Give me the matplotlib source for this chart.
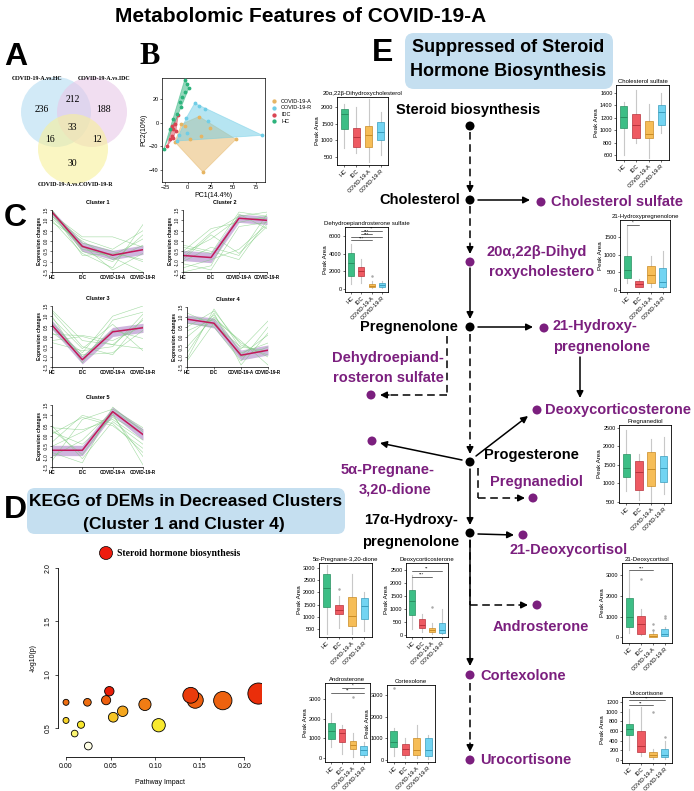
import matplotlib
matplotlib.use("Agg")
import matplotlib.pyplot as plt
from matplotlib.patches import Circle, FancyBboxPatch, Polygon
from matplotlib.colors import LinearSegmentedColormap
import numpy as np

W, H = 694, 791
fig = plt.figure(figsize=(W/100, H/100), dpi=100)
plt.rcParams['font.family'] = ['Liberation Sans', 'DejaVu Sans']

def add_ax(x, y, w, h):
    return fig.add_axes([x/W, 1-(y+h)/H, w/W, h/H])

ov = fig.add_axes([0, 0, 1, 1])
ov.set_xlim(0, W); ov.set_ylim(H, 0); ov.axis('off')

# ---------------- DATA ----------------
venn_sets = ["COVID-19-A.vs.HC", "COVID-19-A.vs.IDC", "COVID-19-A.vs.COVID-19-R"]
venn_counts = {"A": 236, "AB": 212, "B": 188, "ABC": 33, "AC": 16, "BC": 12, "C": 30}

pca_groups = ["COVID-19-A", "COVID-19-R", "IDC", "HC"]
pca_hc_x = [-26.1, -3.3, -0.4, 1.1, -3.3, -6.2, -8.7, -7.6, -11.6, -15.9, -19.6]
pca_hc_y = [-22.0, 36.1, 32.4, 28.7, 25.4, 21.1, 17.5, 13.5, 7.0, 2.8, -5.6]
pca_idc_x = [-22.5, -19.6, -17.8, -15.9, -17.0, -14.1, -10.5, -13.0, -15.9]
pca_idc_y = [-19.7, -14.1, -11.3, -5.6, -2.8, -1.4, 6.2, -7.0, -12.7]
pca_r_x = [-12.3, -1.4, 7.6, 12.3, 18.5, 22.1, 81.9, -9.8, -0.4]
pca_r_y = [-15.5, 4.2, 16.3, 14.1, 11.3, 1.1, -10.7, -10.7, -9.0]
pca_a_x = [-14.1, 12.3, 52.9, 16.7, -3.3, 2.2, 14.9, 23.9, -6.9]
pca_a_y = [-16.3, 5.1, -14.1, -41.7, -2.8, -13.5, -11.3, -4.2, -1.4]

stages = ["HC", "IDC", "COVID-19-A", "COVID-19-R"]
cl_mean = [[1.40, -0.26, -0.69, -0.42],
           [-0.70, -0.80, 1.10, 1.00],
           [0.56, -1.14, 0.23, 0.43],
           [0.89, 0.69, -0.91, -0.66],
           [-0.69, -0.69, 1.18, 0.07]]
cl_band_lo = [[1.25, -0.50, -0.90, -0.65],
              [-0.95, -1.05, 0.90, 0.80],
              [0.35, -1.35, 0.00, 0.20],
              [0.70, 0.45, -1.15, -0.90],
              [-0.95, -0.95, 1.00, -0.20]]
cl_band_hi = [[1.50, -0.05, -0.45, -0.20],
              [-0.45, -0.55, 1.30, 1.20],
              [0.80, -0.95, 0.45, 0.65],
              [1.10, 0.95, -0.65, -0.40],
              [-0.45, -0.45, 1.40, 0.35]]
cl_green = [
    [[1.2, -0.3, -0.8, -1.5], [1.5, -0.5, -1.0, 0.3], [1.3, 0.2, 0.2, -0.3], [1.0, -0.6, -1.3, 0.8],
     [1.4, -0.1, -0.5, -1.0], [0.9, 0.0, -0.9, -0.2], [1.5, -0.4, -0.7, 0.1], [1.1, -0.2, -1.4, -0.6],
     [1.4, -0.7, -0.6, -0.9], [1.2, 0.1, -0.4, 0.5]],
    [[-0.5, 0.6, 0.9, 1.2], [-1.0, -0.3, -0.7, 1.3], [-1.5, -1.2, 1.3, 0.6], [-0.2, -0.5, -0.9, 1.0],
     [-0.8, 0.4, 1.2, 1.4], [-1.3, -0.9, -0.4, 0.8], [-0.6, 0.1, 1.1, 1.1], [-1.1, -1.4, 0.7, 0.9],
     [-0.3, -0.6, 1.4, 1.2], [-0.9, 0.3, -0.6, 0.7]],
    [[1.3, -0.2, -0.4, -0.6], [0.4, -0.8, 1.0, 1.5], [-0.2, 0.0, -0.4, 0.8], [0.9, -0.6, 0.6, -0.7],
     [0.2, -0.9, -0.8, 0.3], [1.0, -1.3, 0.8, 1.2], [-0.3, -0.7, -0.5, 1.1], [0.7, -1.0, 0.3, -0.1],
     [0.1, 0.05, -0.2, 0.5], [1.2, -0.5, -0.9, 0.9]],
    [[-1.1, 1.4, -0.6, 0.8], [0.3, 0.9, -0.2, -1.4], [-0.8, 1.2, -1.4, 0.2], [1.2, 0.6, -0.5, -0.7],
     [0.0, 1.1, -0.8, -0.3], [0.7, 0.5, -1.2, 0.5], [-0.5, 1.0, -0.3, -1.0], [1.0, 0.8, -1.0, -0.5],
     [-1.2, 0.7, -0.9, 0.1], [0.5, 1.3, -0.4, -0.9]],
    [[0.3, -0.9, 1.1, -1.4], [-0.3, 1.0, 0.6, -0.8], [0.2, -0.4, 0.9, 0.1], [-1.2, 0.8, 1.3, 0.4],
     [0.5, -1.1, 0.7, -0.4], [-0.5, 0.2, 1.0, -1.0], [-1.0, -0.2, 1.2, 0.3], [0.1, 0.9, 0.5, -0.6],
     [-0.8, -1.3, 1.4, 0.2], [0.4, 0.3, 0.8, -0.2]],
]

kegg_impact = [0.0, 0.0, 0.0097, 0.0168, 0.025, 0.024, 0.045, 0.0486, 0.053, 0.0636, 0.0886, 0.104, 0.14, 0.145, 0.176, 0.216]
kegg_logp = [0.74, 0.57, 0.447, 0.53, 0.33, 0.74, 0.76, 0.844, 0.60, 0.656, 0.72, 0.525, 0.806, 0.76, 0.756, 0.822]

box_groups = ["HC", "IDC", "COVID-19-A", "COVID-19-R"]
# five-number summaries: [whislo, q1, med, q3, whishi]
bx_dihydroxychol = [[750, 1350, 1800, 1950, 2100], [600, 800, 1100, 1380, 2000],
                    [330, 800, 1150, 1420, 2250], [550, 1000, 1250, 1550, 1850]]
bx_dheas = [[600, 1500, 2900, 4100, 5100], [700, 1500, 2000, 2500, 3400],
            [100, 200, 400, 600, 900], [100, 200, 450, 650, 900]]
bx_cholsulf = [[600, 1030, 1210, 1390, 1450], [800, 870, 1080, 1270, 1650],
               [550, 870, 940, 1150, 1420], [950, 1080, 1300, 1410, 1600]]
bx_21ohpreg = [[200, 350, 580, 960, 1850], [80, 100, 170, 260, 300],
               [100, 200, 420, 690, 950], [50, 80, 230, 620, 1100]]
bx_pregnanediol = [[800, 1170, 1420, 1790, 2450], [550, 830, 1300, 1600, 1800],
                   [500, 940, 1380, 1850, 2200], [700, 1050, 1420, 1730, 2250]]
bx_5apreg = [[300, 1400, 2180, 2750, 3100], [550, 1100, 1280, 1500, 1850],
             [300, 600, 1050, 1820, 2750], [400, 900, 1450, 1780, 2000]]
bx_doc = [[250, 780, 1300, 1750, 2300], [100, 280, 380, 620, 800],
          [30, 100, 180, 260, 450], [30, 80, 200, 450, 1000]]
bx_andro = [[550, 980, 1350, 1800, 2300], [200, 800, 1250, 1450, 1700],
            [50, 450, 650, 850, 1250], [30, 150, 400, 600, 800]]
bx_cortex = [[200, 600, 850, 1320, 1500], [100, 250, 500, 750, 1000],
             [100, 250, 480, 1000, 1600], [50, 200, 450, 1030, 1150]]
bx_21deoxy = [[200, 500, 1000, 1900, 3200], [100, 150, 650, 1050, 1350],
              [0, 30, 70, 150, 300], [50, 80, 150, 380, 500]]
bx_urocort = [[200, 510, 650, 750, 1050], [80, 160, 300, 600, 1100],
              [20, 60, 100, 160, 230], [30, 70, 100, 230, 400]]

# ---------------- COLORS ----------------
box_fill = ['#3DBE86', '#EE5A62', '#F6BD57', '#72D4F2']
box_edge = ['#2A8F61', '#B8333C', '#C98B25', '#3A9DBD']
hdr_blue = '#C5DFF0'
purple = '#7B1F7E'

# ---------------- TITLE & LETTERS ----------------
ov.text(301, 16, "Metabolomic Features of COVID-19-A", fontsize=15, fontweight='bold', ha='center', va='center')
ov.text(4, 57, "A", fontsize=23, fontweight='bold', ha='left', va='center')
ov.text(139, 56, "B", fontsize=22, fontweight='bold', ha='left', va='center', family='Liberation Serif')
ov.text(4, 218, "C", fontsize=23, fontweight='bold', ha='left', va='center')
ov.text(4, 510, "D", fontsize=23, fontweight='bold', ha='left', va='center')
ov.text(372, 53, "E", fontsize=23, fontweight='bold', ha='left', va='center')

# ---------------- VENN ----------------
venn_c = [(56, 112, '#B5DDF3'), (92, 112, '#E8C8E8'), (73, 149, '#F7F09A')]
for (cx, cy, col) in venn_c:
    ov.add_patch(Circle((cx, cy), 35, facecolor=col, edgecolor='none', alpha=0.6))
ov.text(37, 78, venn_sets[0], fontsize=4.2, fontweight='bold', family='Liberation Serif', ha='center', va='center')
ov.text(104, 78, venn_sets[1], fontsize=4.2, fontweight='bold', family='Liberation Serif', ha='center', va='center')
ov.text(76, 185, venn_sets[2], fontsize=4.2, fontweight='bold', family='Liberation Serif', ha='center', va='center')
for key, (tx, ty) in {"A": (42, 109), "AB": (73, 100), "B": (104, 109), "ABC": (72, 127),
                      "AC": (50, 140), "BC": (97, 140), "C": (72, 163)}.items():
    ov.text(tx, ty, str(venn_counts[key]), fontsize=7, family='Liberation Serif', ha='center', va='center')

# ---------------- PCA ----------------
axb = add_ax(162, 78, 103, 104)
pca_cols = {'COVID-19-A': '#E6B563', 'COVID-19-R': '#6FCDE6', 'IDC': '#D94452', 'HC': '#2CB37C'}
pca_data = {'COVID-19-A': (pca_a_x, pca_a_y), 'COVID-19-R': (pca_r_x, pca_r_y),
            'IDC': (pca_idc_x, pca_idc_y), 'HC': (pca_hc_x, pca_hc_y)}

def hull(xs, ys):
    pts = sorted(set(zip(xs, ys)))
    def cross(o, a, b):
        return (a[0]-o[0])*(b[1]-o[1]) - (a[1]-o[1])*(b[0]-o[0])
    lower, upper = [], []
    for p in pts:
        while len(lower) >= 2 and cross(lower[-2], lower[-1], p) <= 0:
            lower.pop()
        lower.append(p)
    for p in reversed(pts):
        while len(upper) >= 2 and cross(upper[-2], upper[-1], p) <= 0:
            upper.pop()
        upper.append(p)
    return lower[:-1] + upper[:-1]

for g in pca_groups:
    xs, ys = pca_data[g]
    axb.add_patch(Polygon(hull(xs, ys), closed=True, facecolor=pca_cols[g], edgecolor=pca_cols[g], alpha=0.5, lw=0.6))
for g in pca_groups:
    xs, ys = pca_data[g]
    axb.scatter(xs, ys, s=3, color=pca_cols[g], zorder=3, label=g)
axb.set_xlim(-28.3, 84.8); axb.set_ylim(-50, 37.5)
axb.set_xticks([-25, 0, 25, 50, 75]); axb.set_yticks([-40, -20, 0, 20])
axb.tick_params(labelsize=4, length=1.5, width=0.4, pad=1)
for s in axb.spines.values():
    s.set_linewidth(0.5)
axb.set_xlabel("PC1(14.4%)", fontsize=5, labelpad=1)
axb.set_ylabel("PC2(10%)", fontsize=5, labelpad=1)
axb.legend(loc='center left', bbox_to_anchor=(1.0, 0.68), fontsize=4, frameon=False,
           handletextpad=0.2, markerscale=1.2, labelspacing=0.3, borderaxespad=0.3)

# ---------------- CLUSTERS ----------------
cl_boxes = [(52, 210, 91, 62), (183, 210, 84, 62), (52, 306, 91, 61), (187, 307, 81, 60), (52, 405, 91, 62)]
xs4 = [1, 2, 3, 4]
for i, (x, y, w, h) in enumerate(cl_boxes):
    a = add_ax(x, y, w, h)
    for ln in cl_green[i]:
        a.plot(xs4, ln, color='#7ACB7A', lw=0.4, alpha=0.7)
    a.fill_between(xs4, cl_band_lo[i], cl_band_hi[i], color='#A77BC4', alpha=0.55, lw=0)
    a.plot(xs4, cl_mean[i], color='#C2185B', lw=1.1)
    a.set_xlim(1, 4); a.set_ylim(-1.5, 1.5)
    a.set_xticks(xs4)
    a.set_xticklabels(stages, fontsize=3.3, fontweight='bold')
    a.set_yticks([-1.5, -1.0, -0.5, 0.0, 0.5, 1.0, 1.5])
    a.set_yticklabels(['-1.5', '-1.0', '-0.5', '0.0', '0.5', '1.0', '1.5'], fontsize=3.3, rotation=90, va='center')
    a.tick_params(length=1.5, width=0.4, pad=1)
    for s in ['top', 'right']:
        a.spines[s].set_visible(False)
    a.spines['left'].set_linewidth(0.5); a.spines['bottom'].set_linewidth(0.5)
    a.set_ylabel("Expression changes", fontsize=3.5, fontweight='bold', labelpad=1)
    a.set_title(f"Cluster {i+1}", fontsize=4, fontweight='bold', pad=4)

# ---------------- PANEL D ----------------
ov.add_patch(FancyBboxPatch((27, 488), 318, 46, boxstyle="round,pad=0,rounding_size=8",
                            facecolor=hdr_blue, edgecolor='none'))
ov.text(186, 501, "KEGG of DEMs in Decreased Clusters", fontsize=12.5, fontweight='bold', ha='center', va='center')
ov.text(184, 524, "(Cluster 1 and Cluster 4)", fontsize=12.5, fontweight='bold', ha='center', va='center')

axd = add_ax(58, 560, 204, 197)
heat = LinearSegmentedColormap.from_list('heat', [(0.0, '#FFFFE6'), (0.35, '#F8F030'), (0.6, '#F5B020'),
                                                   (0.8, '#EE6A10'), (1.0, '#E81A08')])
norm = plt.Normalize(0.33, 0.85)
cols = heat(norm(kegg_logp))
rad_px = [3.0 + 35.0*v for v in kegg_impact]
sizes = np.array([(2*r*0.72)**2 for r in rad_px])
order = np.argsort(sizes)[::-1]
axd.scatter(np.array(kegg_impact)[order], np.array(kegg_logp)[order], s=sizes[order],
            c=cols[order], edgecolors='black', linewidths=0.6, zorder=3)
axd.set_xlim(-0.009, 0.220); axd.set_ylim(0.227, 2.075)
for s in ['top', 'right']:
    axd.spines[s].set_visible(False)
axd.spines['left'].set_bounds(0.5, 2.0); axd.spines['bottom'].set_bounds(0.0, 0.20)
axd.spines['left'].set_linewidth(0.6); axd.spines['bottom'].set_linewidth(0.6)
axd.set_xticks([0.0, 0.05, 0.10, 0.15, 0.20])
axd.set_xticklabels(['0.00', '0.05', '0.10', '0.15', '0.20'], fontsize=5)
axd.set_yticks([0.5, 1.0, 1.5, 2.0])
axd.set_yticklabels(['0.5', '1.0', '1.5', '2.0'], fontsize=5, rotation=90, va='center')
axd.tick_params(length=2.5, width=0.5, pad=2)
axd.set_xlabel("Pathway Impact", fontsize=5, labelpad=6)
axd.set_ylabel("-log10(p)", fontsize=5, labelpad=6)
ov.add_patch(Circle((106, 553), 6.5, facecolor='#EE1C0E', edgecolor='black', lw=0.5))
ov.text(117, 553, "Steroid hormone biosynthesis", fontsize=7, fontweight='bold', family='Liberation Serif', va='center')

# ---------------- PANEL E header ----------------
ov.add_patch(FancyBboxPatch((405, 33), 208, 56, boxstyle="round,pad=0,rounding_size=9",
                            facecolor=hdr_blue, edgecolor='none'))
ov.text(508, 48, "Suppressed of Steroid", fontsize=13, fontweight='bold', ha='center', va='center')
ov.text(508, 72, "Hormone Biosynthesis", fontsize=13, fontweight='bold', ha='center', va='center')

# ---------------- PATHWAY ----------------
def arrow(p0, p1, dashed=False):
    if dashed:
        dx, dy = p1[0]-p0[0], p1[1]-p0[1]
        L = (dx*dx+dy*dy)**0.5
        q = (p1[0]-dx/L*9, p1[1]-dy/L*9)
        ov.plot([p0[0], q[0]], [p0[1], q[1]], color='black', lw=1.1, ls=(0, (5, 3)))
        ov.annotate('', xy=p1, xytext=q, arrowprops=dict(arrowstyle='-|>', color='black', lw=1.1,
                                                          mutation_scale=10, shrinkA=0, shrinkB=0))
    else:
        ov.annotate('', xy=p1, xytext=p0, arrowprops=dict(arrowstyle='-|>', color='black', lw=1.1,
                                                           mutation_scale=10, shrinkA=0, shrinkB=0))

def dot(x, y, c='black'):
    ov.add_patch(Circle((x, y), 4.5, facecolor=c, edgecolor='none', zorder=5))

fs = 10.5
ov.text(468, 110, "Steroid biosynthesis", fontsize=fs, fontweight='bold', ha='center', va='center')
dot(470, 126)
arrow((470, 132), (470, 193), dashed=True)
ov.text(460, 200, "Cholesterol", fontsize=fs, fontweight='bold', ha='right', va='center')
dot(470, 200)
arrow((478, 200), (530, 200))
dot(541, 202, purple)
ov.text(551, 202, "Cholesterol sulfate", fontsize=fs, fontweight='bold', color=purple, va='center')
arrow((470, 206), (470, 254), dashed=True)
dot(470, 262, purple)
ov.text(487, 252, "20α,22β-Dihyd", fontsize=fs, fontweight='bold', color=purple, va='center')
ov.text(489, 272, "roxycholestero", fontsize=fs, fontweight='bold', color=purple, va='center')
arrow((470, 268), (470, 319))
ov.text(458, 327, "Pregnenolone", fontsize=fs, fontweight='bold', ha='right', va='center')
dot(470, 327)
arrow((478, 327), (533, 327))
dot(544, 328, purple)
ov.text(553, 326, "21-Hydroxy-", fontsize=fs, fontweight='bold', color=purple, va='center')
ov.text(553, 347, "pregnenolone", fontsize=fs, fontweight='bold', color=purple, va='center')
arrow((580, 357), (580, 398))
ov.text(388, 358, "Dehydroepiand-", fontsize=fs, fontweight='bold', color=purple, ha='center', va='center')
ov.text(388, 378, "rosteron sulfate", fontsize=fs, fontweight='bold', color=purple, ha='center', va='center')
ov.plot([447, 447], [336, 395], color='black', lw=1.1, ls=(0, (5, 3)))
arrow((447, 395), (380, 395), dashed=True)
dot(371, 395, purple)
arrow((470, 334), (470, 454), dashed=True)
dot(470, 462)
ov.text(484, 455, "Progesterone", fontsize=fs, fontweight='bold', va='center')
arrow((476, 456), (528, 416))
dot(537, 410, purple)
ov.text(545, 410, "Deoxycorticosterone", fontsize=fs, fontweight='bold', color=purple, va='center')
arrow((462, 460), (380, 443))
dot(372, 441, purple)
ov.text(388, 470, "5α-Pregnane-", fontsize=fs, fontweight='bold', color=purple, ha='center', va='center')
ov.text(395, 490, "3,20-dione", fontsize=fs, fontweight='bold', color=purple, ha='center', va='center')
ov.plot([478, 478], [468, 498], color='black', lw=1.1, ls=(0, (5, 3)))
arrow((478, 498), (525, 498), dashed=True)
dot(533, 498, purple)
ov.text(490, 482, "Pregnanediol", fontsize=fs, fontweight='bold', color=purple, va='center')
arrow((470, 469), (470, 525))
dot(470, 533)
ov.text(411, 520, "17α-Hydroxy-", fontsize=fs, fontweight='bold', ha='center', va='center')
ov.text(411, 542, "pregnenolone", fontsize=fs, fontweight='bold', ha='center', va='center')
arrow((478, 534), (514, 535))
dot(523, 535, purple)
ov.text(510, 550, "21-Deoxycortisol", fontsize=fs, fontweight='bold', color=purple, va='center')
ov.plot([470, 470], [540, 605], color='black', lw=1.1, ls=(0, (5, 3)))
arrow((470, 605), (528, 605), dashed=True)
dot(537, 605, purple)
ov.text(493, 627, "Androsterone", fontsize=fs, fontweight='bold', color=purple, va='center')
arrow((470, 540), (470, 666))
dot(470, 675, purple)
ov.text(480, 676, "Cortexolone", fontsize=fs, fontweight='bold', color=purple, va='center')
arrow((470, 683), (470, 752), dashed=True)
dot(470, 760, purple)
ov.text(480, 760, "Urocortisone", fontsize=fs, fontweight='bold', color=purple, va='center')

# ---------------- BOX PLOTS ----------------
def boxpanel(x, y, w, h, title, data, ylim, yticks, fliers=None, sig=None):
    a = add_ax(x, y, w, h)
    stats = []
    for i, d in enumerate(data):
        stats.append(dict(whislo=d[0], q1=d[1], med=d[2], q3=d[3], whishi=d[4],
                          fliers=(fliers[i] if fliers else [])))
    bp = a.bxp(stats, positions=[1, 2, 3, 4], widths=0.6, patch_artist=True, showcaps=False,
               whiskerprops=dict(color='#C8C8C8', lw=0.8),
               flierprops=dict(marker='o', markersize=0.8, markerfacecolor='#AAAAAA', markeredgecolor='#AAAAAA'),
               medianprops=dict(lw=0.7))
    for i, b in enumerate(bp['boxes']):
        b.set_facecolor(box_fill[i]); b.set_edgecolor(box_edge[i]); b.set_linewidth(0.5)
        b.set_zorder(3)
    for i, m in enumerate(bp['medians']):
        m.set_color(box_edge[i]); m.set_zorder(4)
    a.set_ylim(*ylim)
    a.set_xlim(0.4, 4.6)
    a.set_yticks(yticks)
    a.set_yticklabels([str(t) for t in yticks], fontsize=4)
    a.set_xticks([1, 2, 3, 4])
    a.set_xticklabels(box_groups, fontsize=4, rotation=45, ha='right', rotation_mode='anchor')
    a.tick_params(length=1.5, width=0.4, pad=1)
    for s in a.spines.values():
        s.set_linewidth(0.6)
    a.set_title(title, fontsize=4.3, pad=1.5)
    a.set_ylabel("Peak Area", fontsize=4.5, labelpad=1)
    if sig:
        for (i, j, yv, txt) in sig:
            a.plot([i, j], [yv, yv], color='black', lw=0.4)
            a.text((i+j)/2, yv, txt, fontsize=3.2, ha='center', va='bottom')
    return a

boxpanel(337, 97, 51, 68, "20α,22β-Dihydroxycholesterol", bx_dihydroxychol, (250, 2300), [500, 1000, 1500, 2000])
boxpanel(345, 227, 43, 65, "Dehydroepiandrosterone sulfate", bx_dheas, (-330, 7000), [0, 2000, 4000, 6000],
         fliers=[[], [], [1500], []],
         sig=[(1, 3, 5500, "***"), (1, 4, 5900, "***"), (2, 3, 6250, "***"), (2, 4, 6550, "**")])
boxpanel(616, 85, 53, 75, "Cholesterol sulfate", bx_cholsulf, (520, 1730), [600, 800, 1000, 1200, 1400, 1600],
         fliers=[[], [], [], [510]])
boxpanel(620, 220, 50, 72, "21-Hydroxypregnenolone", bx_21ohpreg, (-55, 1980), [0, 500, 1000, 1500],
         sig=[(1, 2, 1850, "*")])
boxpanel(619, 425, 52, 78, "Pregnanediol", bx_pregnanediol, (470, 2580), [500, 1000, 1500, 2000, 2500])
boxpanel(319, 563, 53, 74, "5α-Pregnane-3,20-dione", bx_5apreg, (170, 3200), [500, 1000, 1500, 2000, 2500, 3000],
         fliers=[[], [2150], [], []])
boxpanel(406, 563, 42, 74, "Deoxycorticosterone", bx_doc, (-77, 2770), [0, 500, 1000, 1500, 2000, 2500],
         fliers=[[], [], [1080], []],
         sig=[(1, 3, 2250, "***"), (1, 4, 2480, "**")])
boxpanel(325, 683, 45, 79, "Androsterone", bx_andro, (-200, 3810), [0, 1000, 2000, 3000],
         fliers=[[], [], [3100], []],
         sig=[(1, 4, 3300, "**"), (2, 4, 3580, "*")])
boxpanel(387, 685, 48, 77, "Cortexolone", bx_cortex, (-90, 3460), [0, 1000, 2000, 3000],
         fliers=[[3300], [], [], []])
boxpanel(622, 563, 50, 80, "21-Deoxycortisol", bx_21deoxy, (-280, 3600), [0, 1000, 2000, 3000],
         fliers=[[], [2800], [350, 650], [950, 1050]],
         sig=[(1, 3, 3250, "***")])
boxpanel(622, 697, 50, 66, "Urocortisone", bx_urocort, (-60, 1300), [0, 200, 400, 600, 800, 1000, 1200],
         fliers=[[], [], [1000], [480]],
         sig=[(1, 3, 1130, "**"), (1, 4, 1230, "**")])

fig.savefig("out.png", dpi=100)
